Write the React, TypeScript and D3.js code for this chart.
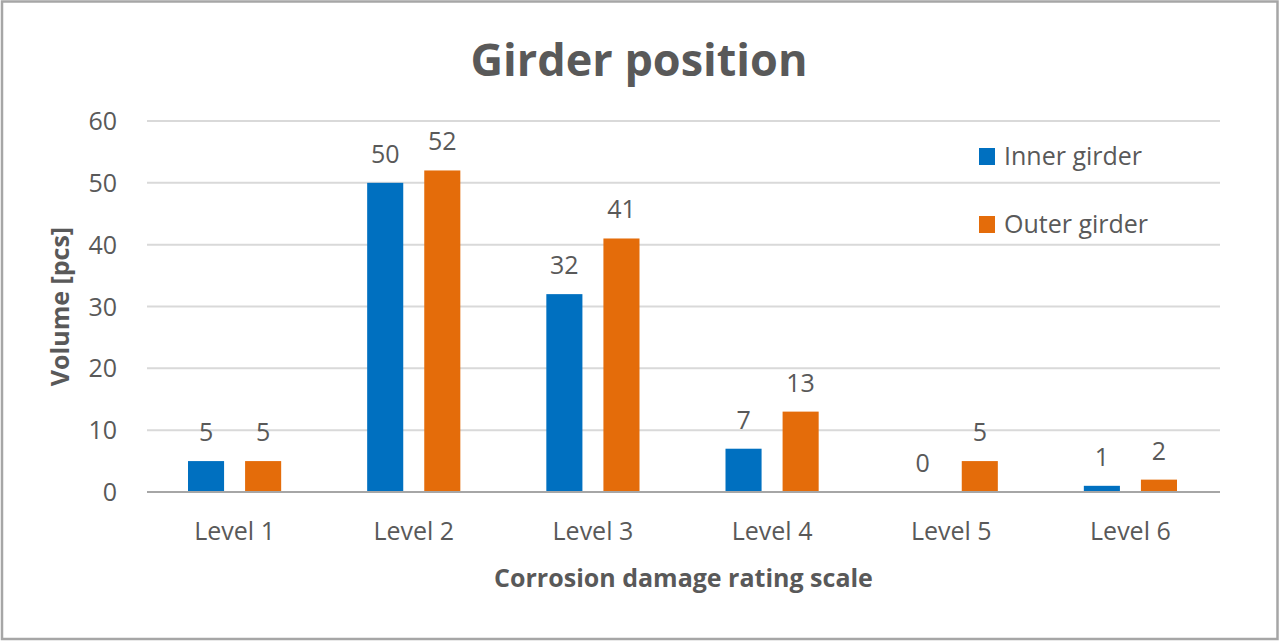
import React from "react";
import * as d3 from "d3";

const categories = ["Level 1", "Level 2", "Level 3", "Level 4", "Level 5", "Level 6"];
const seriesNames = ["Inner girder", "Outer girder"];
const innerValues = [5, 50, 32, 7, 0, 1];
const outerValues = [5, 52, 41, 13, 5, 2];
const yTicks = [0, 10, 20, 30, 40, 50, 60];
const colors = ["#0070C0", "#E46C0A"];

const W = 1280;
const H = 642;
const FONT = "'Open Sans', 'Noto Sans', sans-serif";
const TEXT = "#595959";

export default function App() {
  const left = 147, right = 1220, top = 121, bottom = 492;
  const x0 = d3.scaleBand<string>().domain(categories).range([145, right]).padding(0);
  const y = d3.scaleLinear().domain([0, 60]).range([bottom, top]);
  const bw = x0.bandwidth();
  const half = bw * 0.26;
  const x1 = d3.scaleBand<string>().domain(seriesNames).range([-half, half]).paddingInner(0.368).paddingOuter(0);
  const series = [innerValues, outerValues];

  return (
    <svg width={W} height={H} style={{ position: "absolute", left: 0, top: 0 }} fontFamily={FONT}>
      <rect x={0} y={0} width={W} height={H} fill="#fff" />
      <rect x={2} y={1.5} width={1275.5} height={637.5} fill="none" stroke="#A6A6A6" strokeWidth={2.5} />
      <text x={639} y={76} textAnchor="middle" fontSize={45} fontWeight={700} fill={TEXT}>
        Girder position
      </text>
      {yTicks.filter((t) => t !== 0).map((t) => (
        <line key={t} x1={left} x2={right} y1={y(t)} y2={y(t)} stroke="#D9D9D9" strokeWidth={2} />
      ))}
      {yTicks.map((t) => (
        <text key={t} x={117} y={y(t)} dy="0.36em" textAnchor="end" fontSize={25} fill={TEXT}>
          {t}
        </text>
      ))}
      {categories.map((c, i) => (
        <g key={c}>
          {series.map((vals, s) => {
            const cx = x0(c)! + bw / 2 + x1(seriesNames[s])!;
            const v = vals[i];
            return (
              <g key={s}>
                {v > 0 && (
                  <rect x={cx} y={y(v)} width={x1.bandwidth()} height={y(0) - y(v)} fill={colors[s]} />
                )}
                <text x={cx + x1.bandwidth() / 2} y={y(v) - 20} textAnchor="middle" fontSize={25} fill={TEXT}>
                  {v}
                </text>
              </g>
            );
          })}
          <text x={x0(c)! + bw / 2} y={540} textAnchor="middle" fontSize={25} fill={TEXT}>
            {c}
          </text>
        </g>
      ))}
      <line x1={left} x2={right} y1={y(0)} y2={y(0)} stroke="#A6A6A6" strokeWidth={2} />
      <text x={(left + right) / 2} y={587} textAnchor="middle" fontSize={25} fontWeight={700} fill={TEXT}>
        Corrosion  damage rating scale
      </text>
      <text
        transform={`translate(${69}, ${(top + bottom) / 2}) rotate(-90)`}
        textAnchor="middle"
        fontSize={25}
        fontWeight={700}
        fill={TEXT}
      >
        Volume [pcs]
      </text>
      {seriesNames.map((n, s) => (
        <g key={n} transform={`translate(979, ${148 + s * 68})`}>
          <rect x={0} y={0} width={16} height={17} fill={colors[s]} />
          <text x={25} y={17} fontSize={25} fill={TEXT}>
            {n}
          </text>
        </g>
      ))}
    </svg>
  );
}
